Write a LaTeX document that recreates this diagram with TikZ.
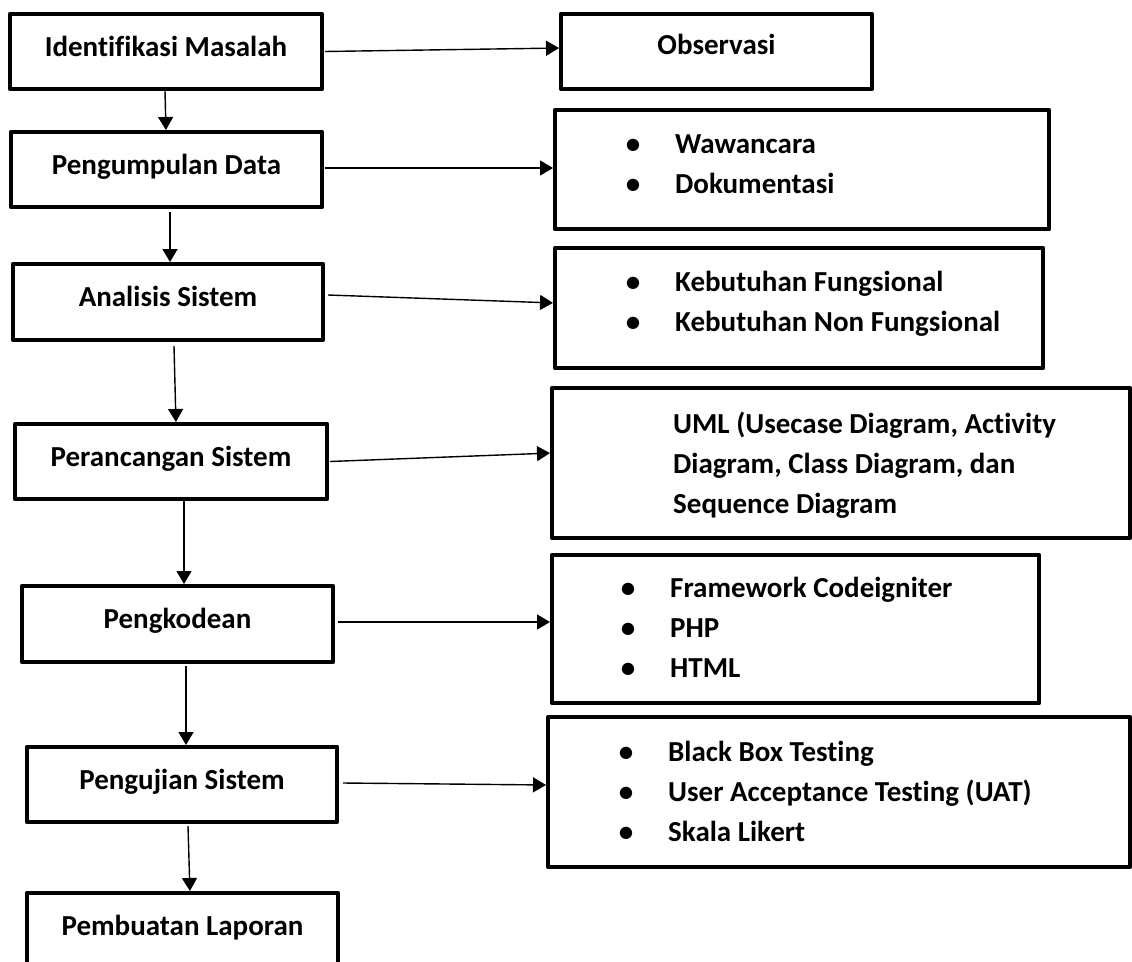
\documentclass[tikz,border=0pt]{standalone}
\usepackage{fontspec}
\setmainfont{Carlito}[Ligatures=NoCommon, RawFeature={-liga;-clig;-calt;-dlig}]
\usetikzlibrary{arrows.meta}

% bullet set in a fixed-width slot so list texts line up
\newcommand{\blt}{\makebox[84pt][c]{\textbullet}}

\tikzset{
  box/.style={draw, line width=4.5pt, line join=round, inner sep=0pt, outer sep=0pt,
              anchor=north west},
  stage/.style={box, text height=21pt, text depth=12pt},
  arr/.style={-{Triangle[length=13pt,width=15pt]}, line width=1.4pt, shorten >=2pt},
  every node/.style={font=\fontsize{29}{40}\selectfont\bfseries},
  list/.style={anchor=base west, inner sep=0pt, draw=none}
}

\begin{document}
\begin{tikzpicture}[x=1pt,y=-1pt]
\useasboundingbox (0,0) rectangle (1132,961);
\clip (0,0) rectangle (1132,961);

% process stages (left column)
\node[stage, minimum width=312pt, minimum height=75pt] (b1) at (10,14)  {Identifikasi Masalah};
\node[stage, minimum width=311pt, minimum height=75pt] (b2) at (11,132) {Pengumpulan Data};
\node[stage, minimum width=310pt, minimum height=76pt] (b3) at (13,264) {Analisis Sistem};
\node[stage, minimum width=312pt, minimum height=75pt] (b4) at (15,424) {Perancangan Sistem};
\node[stage, minimum width=311pt, minimum height=76pt] (b5) at (22,586) {Pengkodean};
\node[stage, minimum width=310pt, minimum height=75pt] (b6) at (27,747) {Pengujian Sistem};
\node[stage, minimum width=311pt, minimum height=75pt] (b7) at (27,893) {Pembuatan Laporan};

% detail boxes (right column)
\node[box, minimum width=311pt, minimum height=75pt, text height=21pt, text depth=16pt]
  (o1) at (561,14) {Observasi};
\node[box, minimum width=494pt, minimum height=119pt] (r2) at (555,110) {};
\node[box, minimum width=488pt, minimum height=120pt] (r3) at (555,248) {};
\node[box, minimum width=578pt, minimum height=150pt] (r4) at (552,388) {};
\node[box, minimum width=487pt, minimum height=148pt] (r5) at (552,555) {};
\node[box, minimum width=582pt, minimum height=150pt] (r6) at (548,717) {};

% contents of the detail boxes
\node[list] (t2) at (591,153) {\begin{tabular}[t]{@{}l@{}}\blt Wawancara\\ \blt Dokumentasi\end{tabular}};
\node[list] (t3) at (591,291) {\begin{tabular}[t]{@{}l@{}}\blt Kebutuhan Fungsional\\ \blt Kebutuhan Non Fungsional\end{tabular}};
\node[list] (t4) at (673,433) {\begin{tabular}[t]{@{}l@{}}UML (Usecase Diagram, Activity\\ Diagram, Class Diagram, dan\\ Sequence Diagram\end{tabular}};
\node[list] (t5) at (586,597) {\begin{tabular}[t]{@{}l@{}}\blt Framework Codeigniter\\ \blt PHP\\ \blt HTML\end{tabular}};
\node[list] (t6) at (584,761) {\begin{tabular}[t]{@{}l@{}}\blt Black Box Testing\\ \blt User Acceptance Testing (UAT)\\ \blt Skala Likert\end{tabular}};

% flow between stages
\draw[arr] ([xshift=-1pt,yshift=-2pt]b1.south) -- ([xshift=-0.5pt]b2.north);
\draw[arr] ([xshift=3.5pt,yshift=-5pt]b2.south) -- ([xshift=2pt]b3.north);
\draw[arr] ([xshift=6pt,yshift=-6pt]b3.south) -- ([xshift=5pt]b4.north);
\draw[arr] ([xshift=13pt,yshift=-2pt]b4.south) -- ([xshift=6.5pt]b5.north);
\draw[arr] ([xshift=8.5pt,yshift=-4pt]b5.south) -- ([xshift=4pt]b6.north);
\draw[arr] ([xshift=6pt,yshift=-4pt]b6.south) -- ([xshift=7.5pt]b7.north);

% links to the detail boxes
\draw[arr] ([xshift=3pt]b1.east) -- ([yshift=3.5pt]o1.west);
\draw[arr] ([xshift=3pt,yshift=1.5pt]b2.east) -- ([yshift=1.5pt]r2.west);
\draw[arr] ([xshift=5pt,yshift=7pt]b3.east) -- ([yshift=5pt]r3.west);
\draw[arr] ([xshift=3pt]b4.east) -- ([yshift=10pt]r4.west);
\draw[arr] ([xshift=5pt,yshift=2pt]b5.east) -- ([yshift=7pt]r5.west);
\draw[arr] ([xshift=6pt,yshift=1.5pt]b6.east) -- ([yshift=7pt]r6.west);
\end{tikzpicture}
\end{document}
